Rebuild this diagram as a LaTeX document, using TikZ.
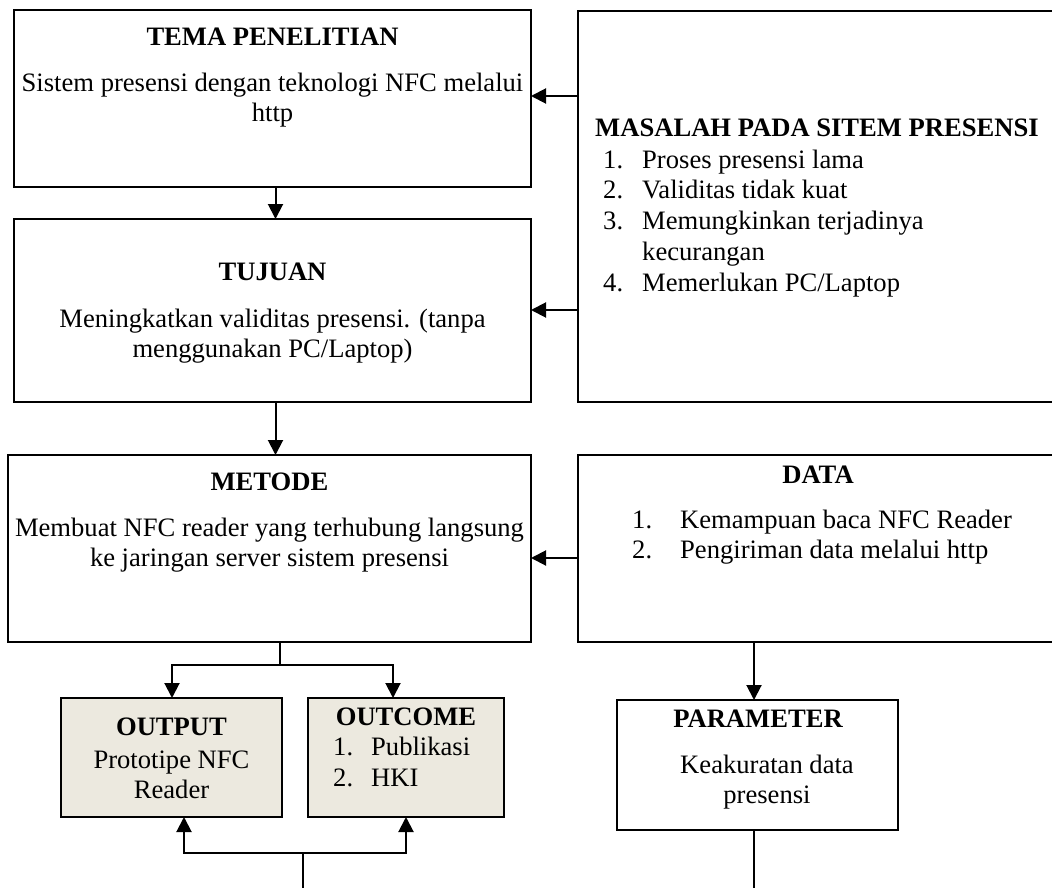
\documentclass[tikz,border=0pt]{standalone}
\usepackage{fontspec}
\setmainfont{Liberation Serif}
\usetikzlibrary{arrows.meta}
\definecolor{tanfill}{HTML}{ECE9DF}
\tikzset{
  box/.style={draw, line width=2pt, inner sep=0pt, outer sep=0pt},
  tanbox/.style={box, fill=tanfill},
  arr/.style={line width=2pt, -{Triangle[length=15pt,width=15pt]}},
  ln/.style={line width=2pt},
  ttl/.style={font=\bfseries\fontsize{26.6}{30.5}\selectfont, inner sep=0pt},
  txt/.style={font=\fontsize{26.6}{30.5}\selectfont, inner sep=0pt, align=center},
  itm/.style={font=\fontsize{26.6}{30.5}\selectfont, inner sep=0pt, anchor=west,
    text height=19pt, text depth=6pt},
}
\begin{document}
\begin{tikzpicture}[x=1pt,y=-1pt]
\useasboundingbox (0,0) rectangle (1052,888);
\clip (0,0) rectangle (1052,888);

% boxes
\node[box, minimum width=517pt, minimum height=177pt] (tema) at (272.5,98.5) {};
\node[box, minimum width=517pt, minimum height=183pt] (tujuan) at (272.5,310.5) {};
\node[box, minimum width=523pt, minimum height=187pt] (metode) at (269.5,548.5) {};
\node[box, minimum width=482pt, minimum height=391pt] (masalah) at (819,206.5) {};
\node[box, minimum width=482pt, minimum height=187pt] (data) at (819,548.5) {};
\node[tanbox, minimum width=221pt, minimum height=119pt] (output) at (171.5,757.5) {};
\node[tanbox, minimum width=196pt, minimum height=119pt] (outcome) at (406,757.5) {};
\node[box, minimum width=281pt, minimum height=130pt] (parameter) at (757.5,765) {};

% TEMA PENELITIAN
\node[ttl] (temaT) at (272.5,37) {TEMA PENELITIAN};
\node[txt] (temaX) at (272.5,100) {Sistem presensi dengan teknologi NFC melalui\\http};

% TUJUAN
\node[ttl] (tujuanT) at (272.5,272) {TUJUAN};
\node[txt] (tujuanX) at (272.5,336) {Meningkatkan validitas presensi. (tanpa\\menggunakan PC/Laptop)};

% METODE
\node[ttl] (metodeT) at (269.5,482) {METODE};
\node[txt] (metodeX) at (269.5,545) {Membuat NFC reader yang terhubung langsung\\ke jaringan server sistem presensi};

% MASALAH
\node[ttl, anchor=west] (masalahT) at (595,128) {MASALAH PADA SITEM PRESENSI};
\node[itm] (m1n) at (603,162) {1.};
\node[itm] (m1) at (642,162) {Proses presensi lama};
\node[itm] (m2n) at (603,192) {2.};
\node[itm] (m2) at (642,192) {Validitas tidak kuat};
\node[itm] (m3n) at (603,223) {3.};
\node[itm] (m3) at (642,223) {Memungkinkan terjadinya};
\node[itm] (m3b) at (642,254) {kecurangan};
\node[itm] (m4n) at (603,285) {4.};
\node[itm] (m4) at (642,285) {Memerlukan PC/Laptop};

% DATA
\node[ttl] (dataT) at (818,475) {DATA};
\node[itm] (d1n) at (632,522) {1.};
\node[itm] (d1) at (680,522) {Kemampuan baca NFC Reader};
\node[itm] (d2n) at (632,552) {2.};
\node[itm] (d2) at (680,552) {Pengiriman data melalui http};

% OUTPUT
\node[ttl] (outputT) at (171.5,727) {OUTPUT};
\node[txt] (outputX) at (171.5,775) {Prototipe NFC\\Reader};

% OUTCOME
\node[ttl] (outcomeT) at (406,717) {OUTCOME};
\node[itm] (o1n) at (333,749) {1.};
\node[itm] (o1) at (371,749) {Publikasi};
\node[itm] (o2n) at (333,780) {2.};
\node[itm] (o2) at (371,780) {HKI};

% PARAMETER
\node[ttl] (parameterT) at (758,719) {PARAMETER};
\node[txt] (parameterX) at (767,782) {Keakuratan data\\presensi};

% connectors
\draw[arr] (tema.south -| 275.5,0) -- (tujuan.north -| 275.5,0);
\draw[arr] (tujuan.south -| 275.5,0) -- (metode.north -| 275.5,0);
\draw[arr] (masalah.west |- 0,96) -- (tema.east |- 0,96);
\draw[arr] (masalah.west |- 0,310) -- (tujuan.east |- 0,310);
\draw[arr] (data.west |- 0,558) -- (metode.east |- 0,558);

\coordinate (split) at (280,665);
\draw[ln] (metode.south -| split) -- (split);
\draw[arr] (split) -- (172,665) -- (output.north -| 172,0);
\draw[arr] (split) -- (393,665) -- (outcome.north -| 393,0);

\coordinate (join) at (303,853);
\coordinate (bottomL) at (303,888);
\draw[ln] (bottomL) -- (join);
\draw[arr] (join) -- (184,853) -- (output.south -| 184,0);
\draw[arr] (join) -- (406,853) -- (outcome.south -| 406,0);

\draw[arr] (data.south -| 754,0) -- (parameter.north -| 754,0);
\coordinate (bottomR) at (754,888);
\draw[ln] (parameter.south -| bottomR) -- (bottomR);
\end{tikzpicture}
\end{document}
